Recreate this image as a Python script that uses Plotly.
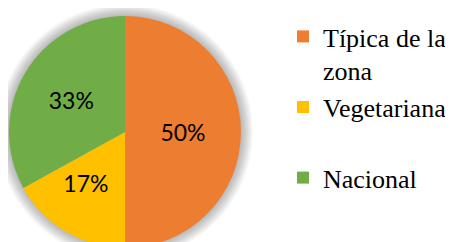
import plotly.graph_objects as go

labels = ["Típica de la<br>zona", "Vegetariana<br>&nbsp;", "Nacional"]
values = [50, 17, 33]
colors = ["#ED7D31", "#FFC000", "#70AD47"]
text_templates = ["%{percent}", "%{percent}<br>&nbsp;", "%{percent}"]

# page body has an 8px margin: figure coords = screen - 8
W, H = 453, 248
cx, cy, r = 117, 124, 116

fig = go.Figure(go.Pie(
    labels=labels, values=values, sort=False, direction="clockwise", rotation=0,
    marker=dict(colors=colors, line=dict(width=0)),
    texttemplate=text_templates, textposition="inside", insidetextorientation="horizontal",
    textfont=dict(family="Lato", size=23, color="black"),
    domain=dict(x=[(cx - r) / W, (cx + r) / W], y=[0, 1]),
    hoverinfo="skip",
))

shapes = []
for k in range(1, 13):
    rr = r + k
    shapes.append(dict(type="circle", xref="paper", yref="paper", layer="below",
                       x0=(cx - rr) / W, x1=(cx + rr) / W,
                       y0=1 - (cy + rr) / H, y1=1 - (cy - rr) / H,
                       fillcolor="rgba(0,0,0,0.022)", line=dict(width=0)))

fig.update_layout(
    width=W, height=H, margin=dict(l=0, r=0, t=0, b=0),
    paper_bgcolor="white", plot_bgcolor="white",
    shapes=shapes,
    legend=dict(x=275 / W, y=1 - 5 / H, xanchor="left", yanchor="top",
                font=dict(family="Liberation Serif", size=26, color="black"),
                valign="top", bgcolor="rgba(0,0,0,0)"),
    showlegend=True,
)
fig.write_html("out.html")
